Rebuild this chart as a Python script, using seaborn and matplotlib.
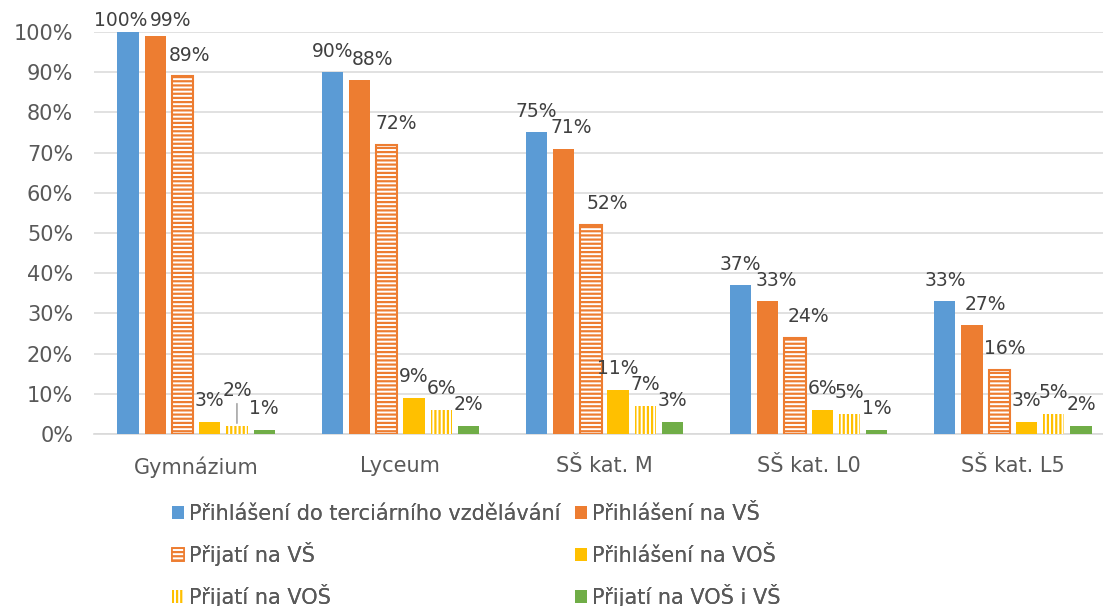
import numpy as np
import pandas as pd
import seaborn as sns
import matplotlib.pyplot as plt
from matplotlib.patches import Patch


# Chart data (percent)
categories = ['Gymnázium', 'Lyceum', 'SŠ kat. M', 'SŠ kat. L0', 'SŠ kat. L5']
series_names = ['Přihlášení do terciárního vzdělávání', 'Přihlášení na VŠ', 'Přijatí na VŠ',
                'Přihlášení na VOŠ', 'Přijatí na VOŠ', 'Přijatí na VOŠ i VŠ']
prihlaseni_terc = [100, 90, 75, 37, 33]
prihlaseni_vs   = [99, 88, 71, 33, 27]
prijati_vs      = [89, 72, 52, 24, 16]
prihlaseni_vos  = [3, 9, 11, 6, 3]
prijati_vos     = [2, 6, 7, 5, 5]
prijati_oboji   = [1, 2, 3, 1, 2]
series_values = [prihlaseni_terc, prihlaseni_vs, prijati_vs, prihlaseni_vos, prijati_vos, prijati_oboji]
y_ticks = [0, 10, 20, 30, 40, 50, 60, 70, 80, 90, 100]

# Styling
colors = ['#5B9BD5', '#ED7D31', '#ED7D31', '#FFC000', '#FFC000', '#70AD47']
grid_color = '#D9D9D9'
text_color = '#595959'
label_color = '#404040'

# Manual nudges of data labels in pixels (series index, category index) -> (dx, dy)
label_nudge = {(0, 0): (-7, -9), (1, 0): (15, -5), (1, 1): (13, 0), (1, 2): (8, 0),
               (1, 3): (8, 0), (1, 4): (13, 0), (2, 0): (7, 0), (2, 1): (10, 0),
               (2, 2): (16, 0), (2, 3): (13, 0), (2, 4): (5, 0), (4, 0): (0, 14)}
leader_lines = [(4, 0)]

df = pd.DataFrame({
  'kategorie': np.tile(categories, len(series_names)),
  'serie':     np.repeat(series_names, len(categories)),
  'hodnota':   np.concatenate(series_values),
})

sns.set_style('white')
plt.rcParams['font.family'] = ['DejaVu Sans']
plt.rcParams['hatch.linewidth'] = 1.6

fig = plt.figure(figsize=(11.03, 6.06), dpi=100)
ax = fig.add_axes([94/1103, 172/606, 1021/1103, 402/606])

sns.barplot(data=df, x='kategorie', y='hodnota', hue='serie', hue_order=series_names,
            palette=dict(zip(series_names, colors)), saturation=1, width=0.8, gap=0.22,
            legend=False, ax=ax, zorder=3)

# Hatched series
for i, cont in enumerate(ax.containers):
  for bar in cont:
    if i == 2:
      bar.set_facecolor('white')
      bar.set_hatch('----')
      bar.set_edgecolor(colors[i])
      bar.set_linewidth(1.5)
    elif i == 4:
      bar.set_facecolor('white')
      bar.set_hatch('||||')
      bar.set_edgecolor(colors[i])
      bar.set_linewidth(0)
    else:
      bar.set_linewidth(0)

# Data labels
for i, cont in enumerate(ax.containers):
  for j, bar in enumerate(cont):
    dx, dy = label_nudge.get((i, j), (0, 0))
    xc = bar.get_x() + bar.get_width() / 2
    top = bar.get_height()
    kw = {}
    if (i, j) in leader_lines:
      kw['arrowprops'] = dict(arrowstyle='-', color='#A6A6A6', lw=1.2, shrinkA=0, shrinkB=2)
    ax.annotate(f'{series_values[i][j]}%', xy=(xc, top), xytext=(dx, 21 + dy),
                textcoords='offset pixels', ha='center', va='center',
                fontsize=13.5, color=label_color, zorder=5, **kw)

ax.set_ylim(0, 100)
ax.set_yticks(y_ticks)
ax.set_yticklabels([f'{v}%' for v in y_ticks])
ax.set_xlabel('')
ax.set_ylabel('')
ax.grid(axis='y', color=grid_color, linewidth=1.1)
ax.set_axisbelow(True)
for side in ['top', 'right', 'left']:
  ax.spines[side].set_visible(False)
ax.spines['bottom'].set_color(grid_color)
ax.spines['bottom'].set_linewidth(1.2)
ax.tick_params(axis='y', length=0, pad=15, labelsize=15, labelcolor=text_color)
ax.tick_params(axis='x', length=0, pad=16, labelsize=15, labelcolor=text_color)

# Legend: two columns, three rows, filled row by row (one small legend per entry
# so that the rows keep a common baseline)
handles = []
for i, name in enumerate(series_names):
  if i == 2:
    handles.append(Patch(facecolor='white', edgecolor=colors[i], hatch='----', linewidth=1.2, label=name))
  elif i == 4:
    handles.append(Patch(facecolor='white', edgecolor=colors[i], hatch='||||', linewidth=0, label=name))
  else:
    handles.append(Patch(facecolor=colors[i], linewidth=0, label=name))

col_x = [172, 575]
row_bottom = [524, 566, 608]
for k, h in enumerate(handles):
  row, col = divmod(k, 2)
  leg = fig.legend([h], [series_names[k]], loc='lower left',
                   bbox_to_anchor=(col_x[col] / 1103, 1 - row_bottom[row] / 606),
                   frameon=False, fontsize=15, labelcolor=text_color,
                   handlelength=0.58, handleheight=0.58, handletextpad=0.25,
                   borderpad=0, borderaxespad=0)
  fig.add_artist(leg)

fig.savefig('out.png', dpi=100)
